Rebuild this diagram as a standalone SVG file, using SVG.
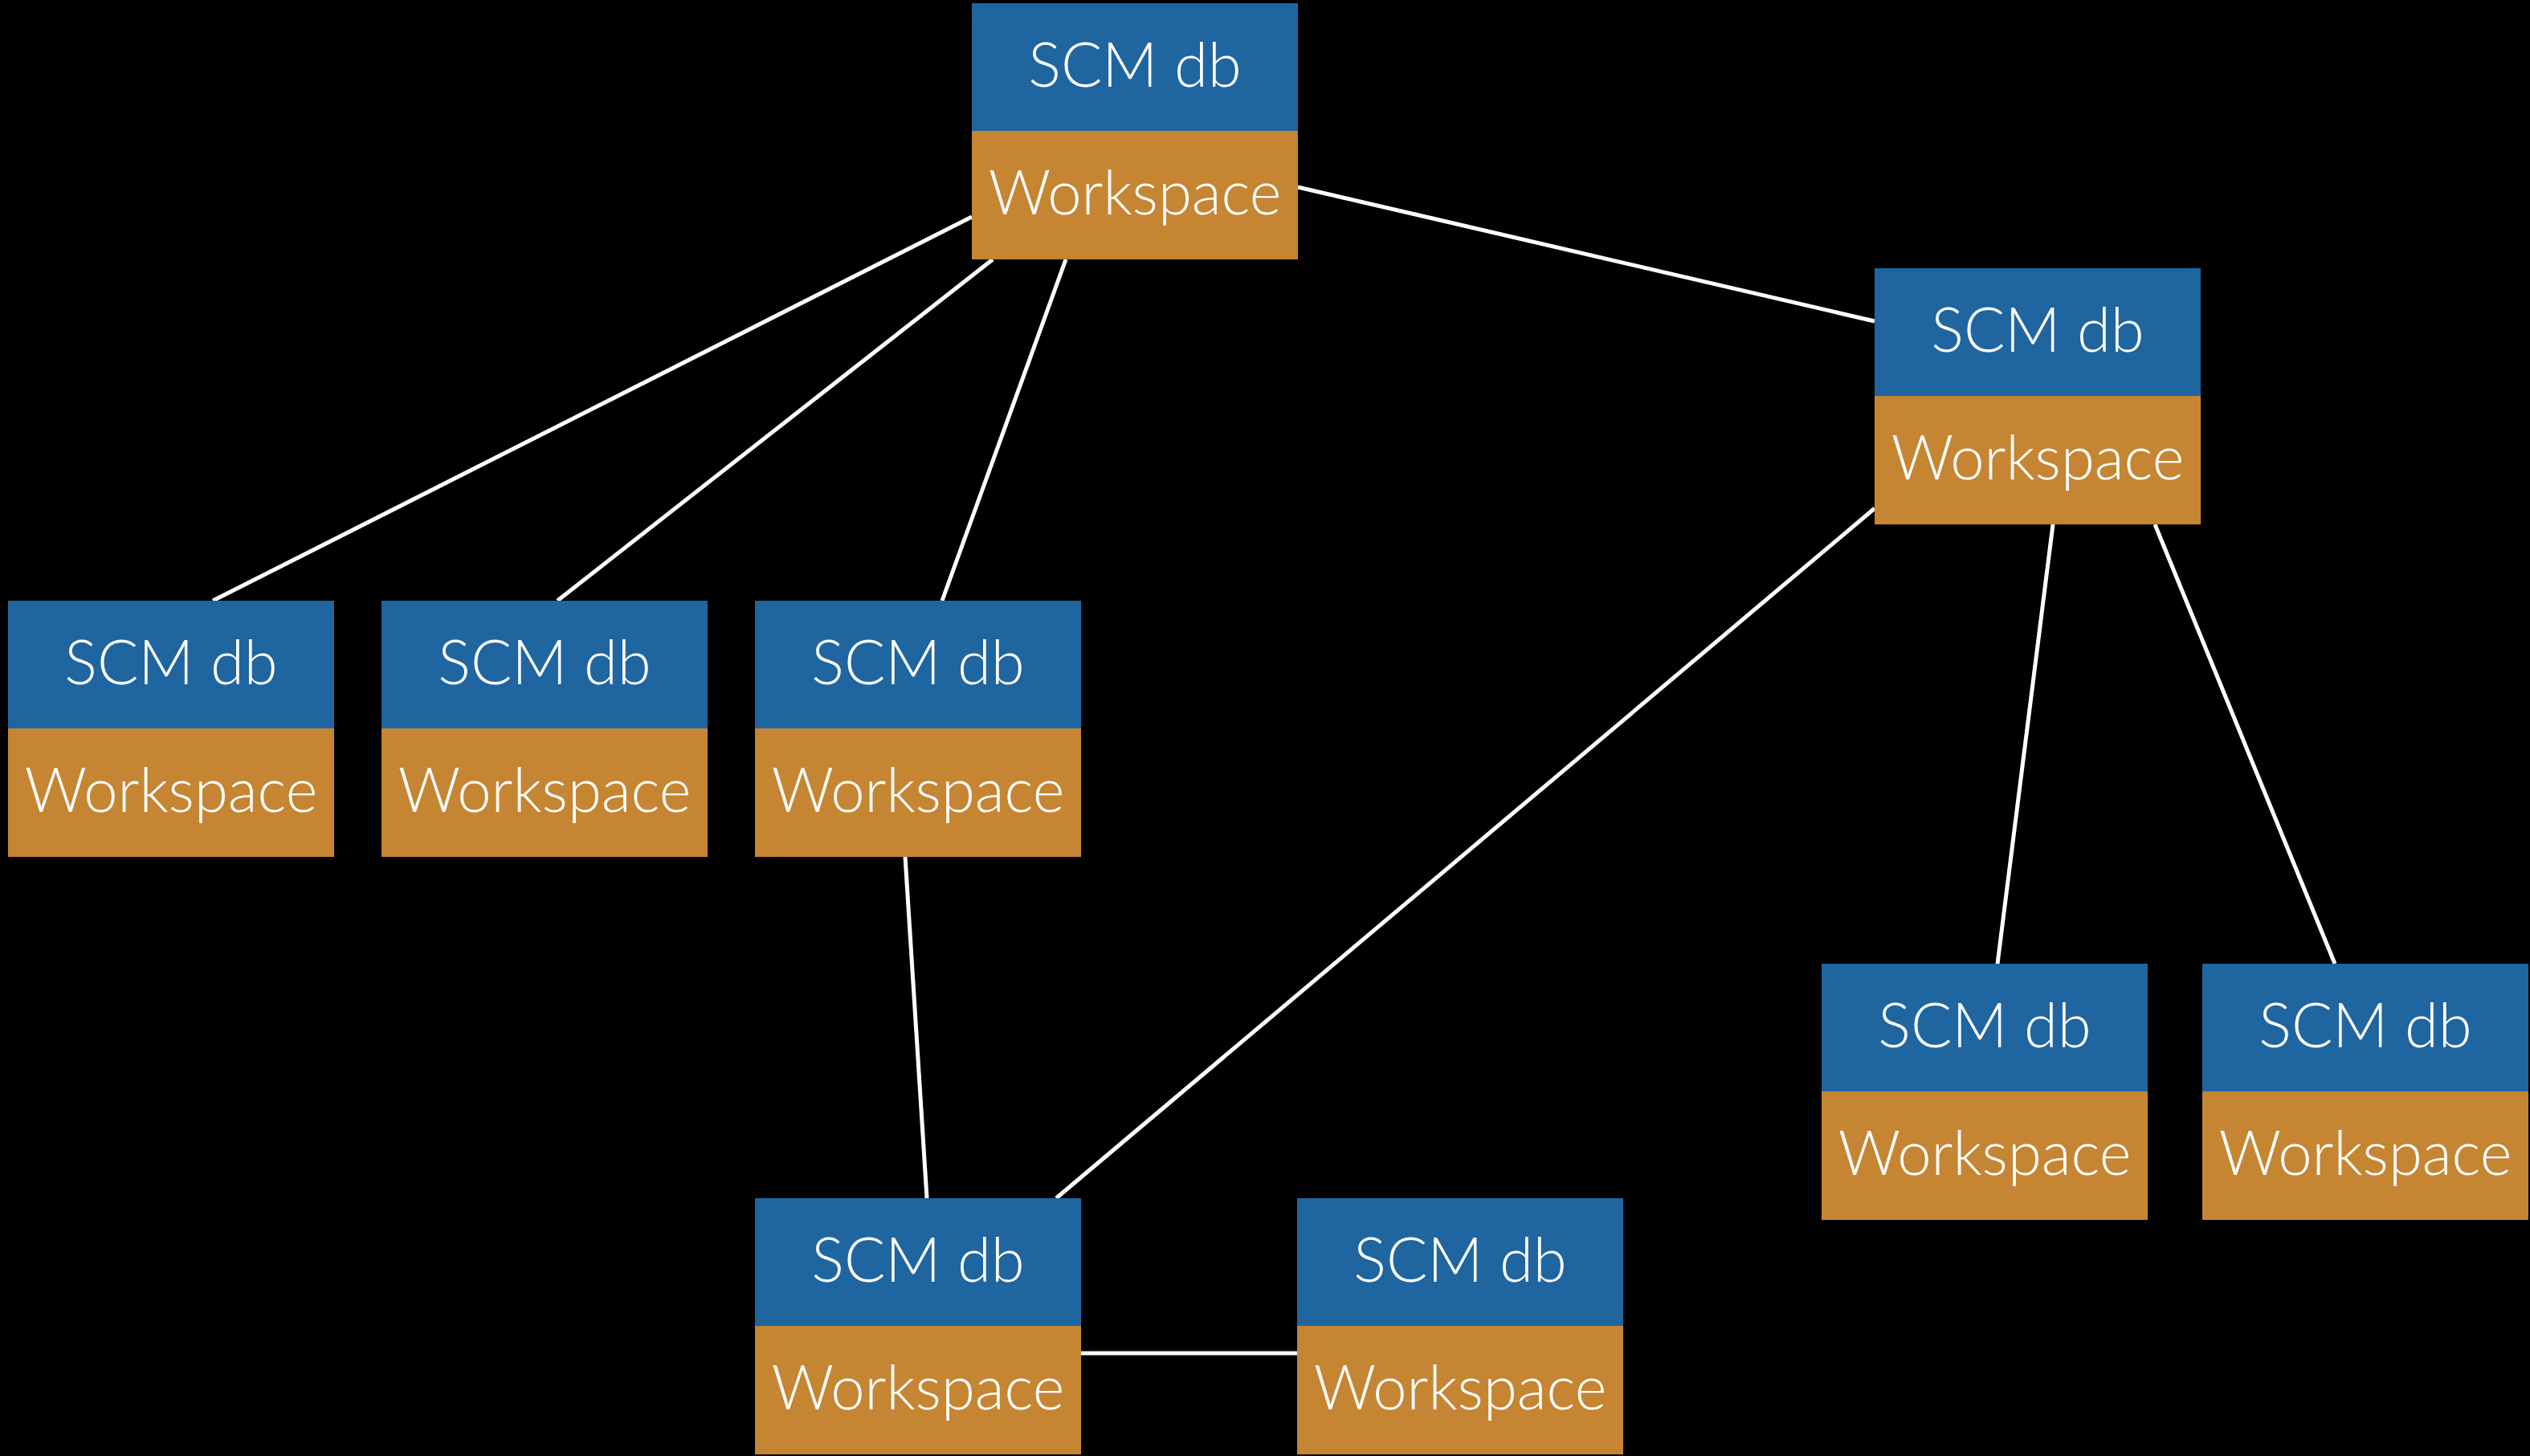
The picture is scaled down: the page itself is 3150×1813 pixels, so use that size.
<svg xmlns="http://www.w3.org/2000/svg" width="3150" height="1813" viewBox="0 0 3150 1813">
  <style>
    .db { fill: #1f65a0; }
    .ws { fill: #c58533; }
    .lbl { fill: #ffffff; font-family: Lato, "Open Sans", "Liberation Sans", sans-serif; font-weight: 300; font-size: 76px; text-anchor: middle; }
    .edge { stroke: #ffffff; stroke-width: 5; fill: none; }
  </style>
  <defs>
    <!-- one repository: SCM db on top, its workspace underneath -->
    <g id="repo">
      <rect class="db" x="0" y="0" width="406" height="160"/>
      <rect class="ws" x="0" y="159" width="406" height="160"/>
      <text class="lbl" x="203" y="104">SCM db</text>
      <text class="lbl" x="203" y="263">Workspace</text>
    </g>
  </defs>
  <rect x="0" y="0" width="3150" height="1813" fill="#000000"/>

  <g id="connectors">
    <line class="edge" x1="1210" y1="270" x2="265" y2="748"/>
    <line class="edge" x1="1236" y1="323" x2="694" y2="748"/>
    <line class="edge" x1="1327" y1="323" x2="1173" y2="748"/>
    <line class="edge" x1="1616" y1="233" x2="2334" y2="400"/>
    <line class="edge" x1="2334" y1="633" x2="1315" y2="1492"/>
    <line class="edge" x1="2556" y1="653" x2="2487" y2="1200"/>
    <line class="edge" x1="2683" y1="653" x2="2907" y2="1200"/>
    <line class="edge" x1="1127" y1="1067" x2="1154" y2="1492"/>
    <line class="edge" x1="1346" y1="1685" x2="1615" y2="1685"/>
  </g>

  <g id="repo-main"><use href="#repo" x="1210" y="4"/></g>
  <g id="repo-right"><use href="#repo" x="2334" y="334"/></g>
  <g id="repo-row1-a"><use href="#repo" x="10" y="748"/></g>
  <g id="repo-row1-b"><use href="#repo" x="475" y="748"/></g>
  <g id="repo-row1-c"><use href="#repo" x="940" y="748"/></g>
  <g id="repo-right-a"><use href="#repo" x="2268" y="1200"/></g>
  <g id="repo-right-b"><use href="#repo" x="2742" y="1200"/></g>
  <g id="repo-bottom-a"><use href="#repo" x="940" y="1492"/></g>
  <g id="repo-bottom-b"><use href="#repo" x="1615" y="1492"/></g>
</svg>
